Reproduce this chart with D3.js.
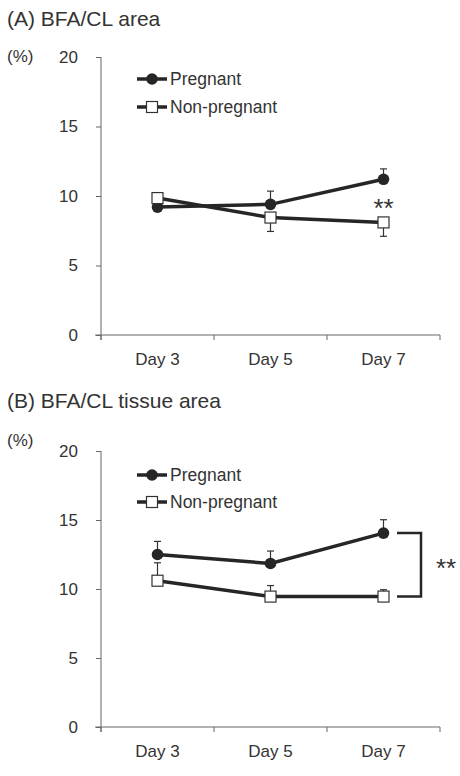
<!DOCTYPE html>
<html><head><meta charset="utf-8">
<script src="https://cdn.jsdelivr.net/npm/d3@7"></script>
<style>
body{margin:0;background:#fff;}
svg{display:block;font-family:"Liberation Sans",Arial,sans-serif;}
</style></head>
<body><svg id="c" width="460" height="776"></svg>
<script>
const days = ["Day 3","Day 5","Day 7"];
const yTicks = [0,5,10,15,20];
const seriesNames = ["Pregnant","Non-pregnant"];
// Panel A: BFA/CL area
const aPregnant = [9.2, 9.4, 11.2];
const aPregnantSE = [0.0, 0.95, 0.75];
const aNonPregnant = [9.85, 8.45, 8.1];
const aNonPregnantSE = [0.0, 1.0, 1.0];
// Panel B: BFA/CL tissue area
const bPregnant = [12.5, 11.85, 14.05];
const bPregnantSE = [0.95, 0.9, 0.97];
const bNonPregnant = [10.6, 9.45, 9.45];
const bNonPregnantSE = [1.3, 0.8, 0.5];

const svg = d3.select("#c");
const ink = "#262626", axisCol = "#666", txt = "#333";
const FF = "Liberation Sans, Arial, sans-serif";

function panel(cfg){
  const g = svg.append("g");
  g.append("text").attr("x",7).attr("y",cfg.titleY).attr("font-size",21).attr("fill",txt).text(cfg.title);
  g.append("text").attr("x",7).attr("y",cfg.pctY).attr("font-size",17).attr("fill",txt).text("(%)");
  const x = d3.scaleBand().domain(days).range([101,440]);
  const y = d3.scaleLinear().domain([0,20]).range([cfg.y0,cfg.y20]);
  // y axis
  const ya = g.append("g").attr("transform","translate(101,0)")
    .call(d3.axisLeft(y).tickValues(yTicks).tickSize(5).tickSizeOuter(0).tickPadding(18));
  ya.select(".domain").attr("stroke",axisCol).attr("d",`M0,${y(20)}V${y(0)+5}`);
  ya.selectAll(".tick line").attr("stroke",axisCol);
  ya.selectAll(".tick text").attr("font-size",17).attr("fill",txt).attr("font-family",FF);
  // x axis
  const xa = g.append("g").attr("transform",`translate(0,${y(0)})`)
    .call(d3.axisBottom(x).tickSize(0).tickPadding(18));
  xa.select(".domain").attr("stroke",axisCol).attr("d",`M95,0H${x.range()[1]}`);
  xa.selectAll(".tick text").attr("font-size",17).attr("fill",txt).attr("font-family",FF);
  const bounds = days.map(d=>x(d)).concat([x.range()[1]]);
  xa.selectAll("line.bt").data(bounds).enter().append("line").attr("class","bt")
    .attr("x1",d=>d).attr("x2",d=>d).attr("y1",0).attr("y2",5).attr("stroke",axisCol);
  const cx = d => x(d)+x.bandwidth()/2;
  const line = d3.line().x((v,i)=>cx(days[i])).y(v=>y(v));
  // error bars
  cfg.series.forEach(s=>{
    s.vals.forEach((v,i)=>{
      if(!s.se[i]) return;
      const e = v + s.dir*s.se[i];
      g.append("line").attr("x1",cx(days[i])).attr("x2",cx(days[i])).attr("y1",y(v)).attr("y2",y(e)).attr("stroke","#333").attr("stroke-width",1.2);
      g.append("line").attr("x1",cx(days[i])-3.5).attr("x2",cx(days[i])+3.5).attr("y1",y(e)).attr("y2",y(e)).attr("stroke","#333").attr("stroke-width",1.2);
    });
  });
  cfg.series.forEach(s=>{
    g.append("path").attr("d",line(s.vals)).attr("fill","none").attr("stroke",ink).attr("stroke-width",3.5);
  });
  cfg.series.forEach(s=>{
    s.vals.forEach((v,i)=>{
      if(s.marker==="circle") g.append("circle").attr("cx",cx(days[i])).attr("cy",y(v)).attr("r",5.8).attr("fill",ink);
      else g.append("rect").attr("x",cx(days[i])-5.5).attr("y",y(v)-5.5).attr("width",11).attr("height",11).attr("fill","#fff").attr("stroke","#333").attr("stroke-width",1.2);
    });
  });
  // legend
  seriesNames.forEach((n,k)=>{
    const ly = cfg.legY[k];
    g.append("line").attr("x1",137).attr("x2",167).attr("y1",ly).attr("y2",ly).attr("stroke",ink).attr("stroke-width",3.5);
    if(k===0) g.append("circle").attr("cx",152).attr("cy",ly).attr("r",5.8).attr("fill",ink);
    else g.append("rect").attr("x",146.5).attr("y",ly-5.5).attr("width",11).attr("height",11).attr("fill","#fff").attr("stroke","#333").attr("stroke-width",1.2);
    g.append("text").attr("x",170).attr("y",ly).attr("dy","0.35em").attr("font-size",17.5).attr("fill",txt).text(n);
  });
  cfg.extra(g,x,y,cx);
}

panel({
  title:"(A) BFA/CL area", titleY:26, pctY:62, y0:335, y20:57, legY:[79,107],
  series:[
    {vals:aPregnant, se:aPregnantSE, dir:1, marker:"circle"},
    {vals:aNonPregnant, se:aNonPregnantSE, dir:-1, marker:"square"}
  ],
  extra:(g,x,y,cx)=>{
    g.append("text").attr("x",cx("Day 7")).attr("y",217).attr("text-anchor","middle").attr("font-size",26).attr("fill",txt).text("**");
  }
});
panel({
  title:"(B) BFA/CL tissue area", titleY:408, pctY:446, y0:727, y20:451, legY:[475,502],
  series:[
    {vals:bPregnant, se:bPregnantSE, dir:1, marker:"circle"},
    {vals:bNonPregnant, se:bNonPregnantSE, dir:1, marker:"square"}
  ],
  extra:(g,x,y,cx)=>{
    const top = y(bPregnant[2]), bot = y(bNonPregnant[2]);
    g.append("path").attr("d",`M397,${top}H421V${bot}H397`).attr("fill","none").attr("stroke",ink).attr("stroke-width",2.5);
    g.append("text").attr("x",446).attr("y",577).attr("text-anchor","middle").attr("font-size",26).attr("fill",txt).text("**");
  }
});
</script></body></html>
